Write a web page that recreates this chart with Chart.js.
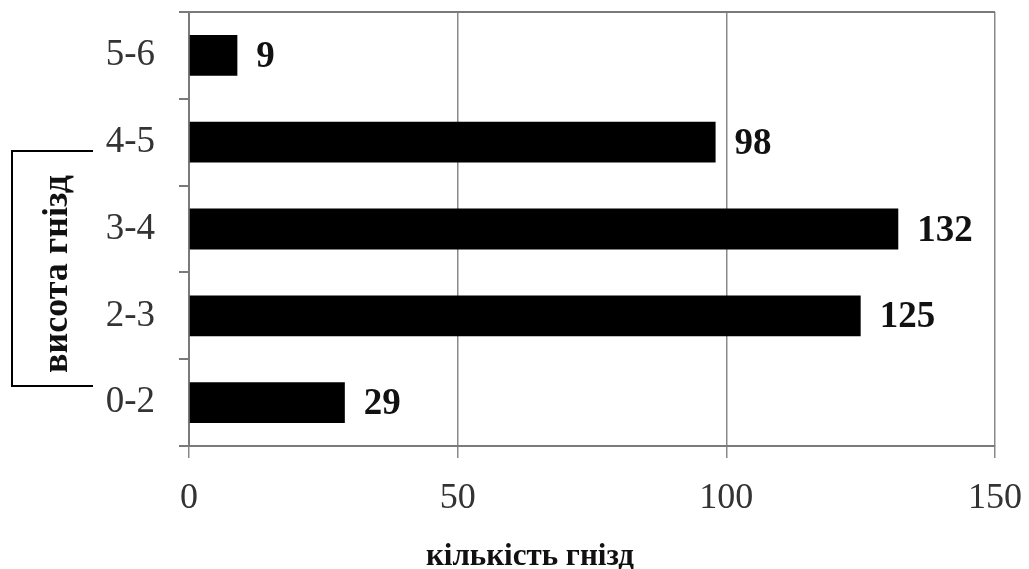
<!DOCTYPE html>
<html>
<head>
<meta charset="utf-8">
<script src="https://cdn.jsdelivr.net/npm/chart.js@4/dist/chart.umd.min.js"></script>
<style>
  html, body { margin: 0; padding: 0; background: #fff; }
</style>
</head>
<body>
<canvas id="nestChart" width="1029" height="569"></canvas>
<script>
"use strict"

// data, top to bottom as drawn
var heights = ['5-6', '4-5', '3-4', '2-3', '0-2'];
var nestCounts = [9, 98, 132, 125, 29];
var xTicks = [0, 50, 100, 150];

var serif = "'Liberation Serif', 'Times New Roman', serif";

// value labels next to bars
var valueLabels = {
    id: 'valueLabels',
    afterDatasetsDraw: function(chart) {
        var ctx = chart.ctx;
        var meta = chart.getDatasetMeta(0);
        ctx.save();
        ctx.font = 'bold 37px ' + serif;
        ctx.fillStyle = '#111';
        ctx.textAlign = 'left';
        ctx.textBaseline = 'middle';
        meta.data.forEach(function(bar, i) {
            ctx.fillText(String(nestCounts[i]), bar.x + 19, bar.y + 2);
        });
        ctx.restore();
    }
};

// top border + axis titles
var frame = {
    id: 'frame',
    afterDraw: function(chart) {
        var ctx = chart.ctx;
        var a = chart.chartArea;
        ctx.save();
        ctx.strokeStyle = '#7a7a7a';
        ctx.lineWidth = 2;
        ctx.beginPath();
        ctx.moveTo(a.left - 10, a.top);
        ctx.lineTo(a.right, a.top);
        ctx.stroke();

        // box round the y title
        ctx.strokeStyle = '#000';
        ctx.lineWidth = 2;
        ctx.beginPath();
        ctx.moveTo(93, 151);
        ctx.lineTo(12, 151);
        ctx.lineTo(12, 386);
        ctx.lineTo(93, 386);
        ctx.stroke();

        ctx.fillStyle = '#111';
        ctx.font = 'bold 36px ' + serif;
        ctx.textAlign = 'center';
        ctx.textBaseline = 'middle';
        ctx.translate(58, 274);
        ctx.rotate(-Math.PI / 2);
        ctx.fillText('висота гнізд', 0, 0);
        ctx.restore();

        ctx.save();
        ctx.fillStyle = '#111';
        ctx.font = 'bold 31px ' + serif;
        ctx.textAlign = 'center';
        ctx.textBaseline = 'middle';
        ctx.fillText('кількість гнізд', 530, 557);
        ctx.restore();
    }
};

new Chart(document.getElementById('nestChart'), {
    type: 'bar',
    data: {
        labels: heights,
        datasets: [{
            data: nestCounts,
            backgroundColor: '#000',
            borderWidth: 0,
            barPercentage: 0.47,
            categoryPercentage: 1
        }]
    },
    options: {
        indexAxis: 'y',
        responsive: false,
        animation: false,
        devicePixelRatio: 1,
        layout: { padding: { top: 12, right: 34, left: 0, bottom: 0 } },
        plugins: {
            legend: { display: false },
            tooltip: { enabled: false }
        },
        scales: {
            x: {
                min: 0,
                max: 150,
                afterFit: function(scale) {
                    scale.height = 123;
                    scale.paddingLeft = 0;
                    scale.paddingRight = 0;
                },
                afterBuildTicks: function(scale) {
                    scale.ticks = xTicks.map(function(v) { return { value: v }; });
                },
                grid: {
                    color: '#8a8a8a',
                    lineWidth: 1.5,
                    tickLength: 12
                },
                border: { color: '#7a7a7a', width: 2 },
                ticks: {
                    color: '#333',
                    font: { family: serif, size: 36 },
                    padding: 19,
                    maxRotation: 0
                }
            },
            y: {
                afterFit: function(scale) {
                    scale.width = 189;
                    scale.paddingTop = 0;
                    scale.paddingBottom = 0;
                },
                grid: {
                    drawOnChartArea: false,
                    offset: true,
                    color: '#7a7a7a',
                    lineWidth: 2,
                    tickLength: 10
                },
                border: { color: '#7a7a7a', width: 2 },
                ticks: {
                    color: '#333',
                    font: { family: serif, size: 37 },
                    padding: 24
                }
            }
        }
    },
    plugins: [valueLabels, frame]
});
</script>
</body>
</html>
